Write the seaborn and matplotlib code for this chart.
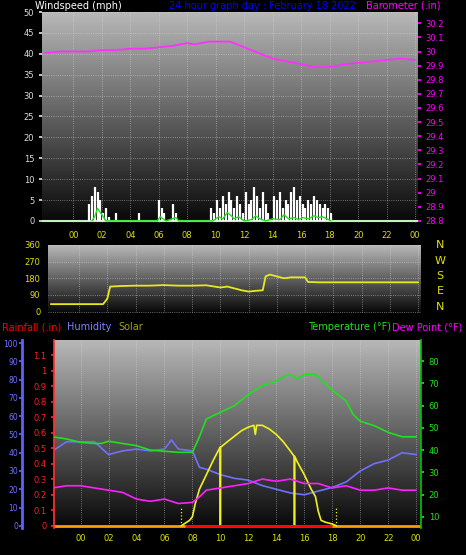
import numpy as np
import matplotlib
matplotlib.use("Agg")
import matplotlib.pyplot as plt
import seaborn as sns

sns.set_theme(style="dark")
plt.rcParams['font.family'] = ['DejaVu Sans']

# ---- data ----
gust_t = [0.9, 1.1, 1.3, 1.5, 1.7, 1.9, 2.1, 2.3, 2.5, 2.7, 3.0, 3.2, 4.6, 4.8, 6.0, 6.2, 6.4, 6.6, 7.0, 7.2, 7.4, 7.6,
          9.7, 9.9, 10.1, 10.3, 10.5, 10.7, 10.9, 11.1, 11.3, 11.5, 11.7, 11.9, 12.1, 12.3, 12.5, 12.7, 12.9, 13.1, 13.3,
          13.5, 13.7, 14.1, 14.3, 14.5, 14.7, 14.9, 15.1, 15.3, 15.5, 15.7, 15.9, 16.1, 16.3, 16.5, 16.7, 16.9, 17.1,
          17.3, 17.5, 17.7, 17.9, 18.1]
gust_v = [0, 4, 6, 8, 7, 5, 2, 3, 1, 0, 2, 0, 2, 0, 5, 3, 2, 0, 4, 2, 0, 0,
          3, 2, 5, 3, 6, 4, 7, 5, 3, 6, 4, 2, 7, 4, 5, 8, 6, 3, 7,
          4, 2, 6, 5, 7, 3, 5, 4, 7, 8, 5, 6, 4, 3, 5, 4, 6, 5,
          4, 3, 4, 3, 2]
avg_t = [1.3, 1.5, 1.7, 1.9, 2.1, 2.3, 5.9, 6.1, 6.3, 6.5, 7.2, 7.4, 9.8, 10.2, 10.5, 10.8, 11.0, 11.3, 11.6, 12.0,
         12.5, 12.8, 13.1, 13.5, 14.0, 14.5, 14.8, 15.1, 15.5, 15.8, 16.1, 16.5, 16.9, 17.2, 17.5, 17.8, 18.1]
avg_v = [0, 1, 3, 2, 1, 0, 0, 1, 0.5, 0, 0.8, 0, 0, 1, 0.5, 2, 1.5, 0.5, 1, 0,
         0.3, 1.2, 0.5, 0, 0.5, 0.3, 1.5, 0.5, 0.8, 0.3, 0.8, 0.5, 1.2, 0.8, 1.0, 0.5, 0]

baro_t = [-2, -1, 0, 1, 2, 3, 4, 5, 6, 7, 8, 8.5, 9, 9.5, 10, 11, 12, 13, 14, 15, 16, 17, 18, 19, 20, 21, 22, 23, 24]
baro_v = [29.99, 30.0, 30.0, 30.0, 30.01, 30.01, 30.02, 30.02, 30.03, 30.04, 30.06, 30.05, 30.06, 30.07, 30.07, 30.07,
          30.03, 29.99, 29.95, 29.93, 29.91, 29.89, 29.89, 29.91, 29.92, 29.93, 29.94, 29.95, 29.94]

dir_t = [-2, 0, 1, 1.7, 2.0, 2.2, 3, 4, 5, 6, 7, 8, 9, 10, 10.5, 11, 11.5, 12, 12.5, 13.0, 13.2, 13.5, 14, 14.5, 15, 16, 16.2, 17, 24]
dir_v = [40, 40, 40, 40, 70, 135, 138, 140, 140, 143, 140, 140, 142, 130, 135, 125, 115, 108, 112, 115, 190, 200, 190, 180, 185, 185, 160, 158, 158]

temp_t = [-2, -1, 0, 1, 1.5, 2, 3, 4, 5, 6, 7, 8, 8.5, 9, 10, 11, 12, 13, 14, 14.5, 15, 15.5, 16, 16.8, 17.5, 18, 19, 19.5, 20, 21, 22, 23, 24]
temp_v = [46, 45, 43.5, 43, 43, 44, 43, 42, 40, 39.5, 39, 39, 46, 54, 57, 60, 65, 69, 71, 73, 74, 72, 74, 74, 70, 67, 62, 56, 53, 51, 48, 46, 46]

hum_t = [-2, -1, 0, 1, 2, 3, 4, 5, 6, 6.5, 7, 8, 8.5, 9, 10, 11, 12, 13, 14, 15, 16, 17, 18, 19, 20, 21, 22, 23, 24]
hum_v = [41, 46, 46, 46, 39, 41, 42, 41, 42, 47, 42, 41, 32, 31, 28, 26, 25, 22, 20, 18, 17, 19, 21, 24, 30, 34, 36, 40, 39]

dew_t = [-2, -1, 0, 1, 2, 3, 4, 5, 6, 7, 8, 8.5, 9, 10, 11, 12, 13, 14, 15, 16, 17, 18, 19, 20, 21, 22, 23, 24]
dew_v = [23, 24, 24, 23, 22, 21, 18, 17, 18, 16, 16.5, 19, 22, 23, 24, 25, 27, 26, 27, 25, 25, 23, 24, 22, 22, 23, 22, 22]

solar_t = [7.2, 7.8, 8.0, 8.2, 8.5, 9.0, 9.5, 9.98, 10.0, 10.02, 10.5, 11, 11.5, 12, 12.4, 12.5, 12.6, 13, 13.5, 14, 14.5,
           15.0, 15.28, 15.3, 15.32, 15.5, 16, 16.5, 16.8, 17.0, 17.2, 17.5, 18.0, 18.3]
solar_v = [0, 3, 5, 12, 20, 28, 36, 43, 0, 43, 46, 49, 52, 54, 55, 50, 55, 55, 53, 50, 46,
           41, 38, 0, 38, 35, 28, 20, 16, 8, 3, 2, 1, 0]

hours = [0, 2, 4, 6, 8, 10, 12, 14, 16, 18, 20, 22, 24]
hour_labels = ["00", "02", "04", "06", "08", "10", "12", "14", "16", "18", "20", "22", "00"]

# ---- figure ----
W, H = 466, 555
fig = plt.figure(figsize=(W / 100, H / 100), dpi=100, facecolor="black")

def box(l, t, r, b):
    return [l / W, 1 - b / H, (r - l) / W, (b - t) / H]

grad = np.linspace(0.72, 0.03, 256).reshape(-1, 1)

def style(ax, xlim):
    ax.set_xlim(*xlim)
    ax.set_facecolor("black")
    yl = ax.get_ylim()
    ax.imshow(grad, cmap="gray", vmin=0, vmax=1, aspect="auto",
              extent=[xlim[0], xlim[1], yl[0], yl[1]], zorder=0)
    ax.set_ylim(*yl)
    ax.grid(True, color="#dddddd", linestyle=":", linewidth=0.6, alpha=0.6)
    for s in ax.spines.values():
        s.set_visible(False)
    ax.set_xticks(hours)
    ax.set_xticklabels(hour_labels, fontsize=6, color="#e0e000")
    ax.tick_params(axis="x", length=0, pad=4)
    ax.tick_params(axis="y", labelsize=6, length=2)

# top
xl1 = (-2.2, 24.2)
ax1 = fig.add_axes(box(42, 12, 418, 223))
ax1.set_ylim(-0.5, 50)
ax1.set_yticks(range(0, 51, 5))
ax1.tick_params(axis="y", colors="#dddddd")
style(ax1, xl1)
ax1.tick_params(axis="x", pad=6)
ax1.vlines(gust_t, 0, gust_v, color="white", linewidth=1.6, zorder=3)
ax1.plot(avg_t, avg_v, color="#20e020", linewidth=1.0, zorder=4)
ax1.axhline(0, color="#c0f0c0", linewidth=1.5, zorder=2)
ax1b = ax1.twinx()
ax1b.set_ylim(28.8 - 0.5 * 1.4 / 47.3, 28.8 + 50 * 1.4 / 47.3)
bt = np.round(np.arange(28.8, 30.21, 0.1), 1)
ax1b.set_yticks(bt)
ax1b.set_yticklabels([f"{v:g}" for v in bt])
ax1b.tick_params(axis="y", colors="#ff00ff", labelsize=6, length=2)
for s in ax1b.spines.values():
    s.set_visible(False)
ax1b.plot(baro_t, baro_v, color="#ff30ff", linewidth=1.3)

fig.text(35 / W, 1 - 6 / H, "Windspeed (mph)", color="white", fontsize=7, va="center")
fig.text(262 / W, 1 - 6 / H, "24 hour graph day : February 18 2022", color="#0000ff", fontsize=7, va="center", ha="center")
fig.text(440 / W, 1 - 6 / H, "Barometer (.in)", color="#ff00ff", fontsize=7, va="center", ha="right")

# middle
ax2 = fig.add_axes(box(48, 245, 421, 313))
ax2.set_ylim(-8, 360)
ax2.set_yticks([0, 90, 180, 270, 360])
ax2.tick_params(axis="y", colors="#e0e000")
style(ax2, xl1)
ax2.tick_params(axis="x", labelbottom=False)
ax2.plot(dir_t, dir_v, color="#e8e820", linewidth=1.3)
for i, c in enumerate("NWSEN"):
    fig.text(440 / W, 1 - (245 + i * 15.5) / H, c, color="#e0e000", fontsize=8, ha="center", va="center")

# bottom
xl3 = (-1.9, 24.35)
ax3 = fig.add_axes(box(54, 340, 421, 528))
ax3.set_ylim(-1.2, 101.7)
style(ax3, xl3)
ax3.set_yticks([])
ax3.plot(hum_t, hum_v, color="#7070ff", linewidth=1.2, zorder=3)
ax3.plot(solar_t, solar_v, color="#f0f020", linewidth=1.2, zorder=4)
ax3.vlines([7.2, 18.3], 0, 10, color="#f0f020", linestyle=":", linewidth=0.9, zorder=4)
ax3.axhline(0, color="#ff9900", linewidth=2, zorder=2)
ax3.hlines(0, 7.5, 18, color="#ff0000", linewidth=2, zorder=5)

axh = ax3.twinx()
axh.set_ylim(-1.2, 101.7)
axh.yaxis.tick_left()
axh.spines["left"].set_visible(True)
axh.spines["left"].set_position(("outward", 23))
axh.spines["left"].set_color("#6060ff")
axh.spines["left"].set_linewidth(2)
for s in ["right", "top", "bottom"]:
    axh.spines[s].set_visible(False)
axh.set_yticks(range(0, 101, 10))
axh.tick_params(axis="y", colors="#6060ff", labelsize=5.5, length=2, pad=1)
axh.tick_params(axis="y", labelcolor="#7070ff")

axr = ax3.twinx()
axr.set_ylim(-1.2 * 1.2 / 101.7, 1.2)
axr.yaxis.tick_left()
axr.spines["left"].set_visible(True)
axr.spines["left"].set_color("#ff3030")
axr.spines["left"].set_linestyle((0, (2, 1)))
for s in ["right", "top", "bottom"]:
    axr.spines[s].set_visible(False)
rt = np.round(np.arange(0, 1.11, 0.1), 1)
axr.set_yticks(rt)
axr.set_yticklabels([f"{v:g}" for v in rt])
axr.tick_params(axis="y", colors="#ff2020", labelsize=6, length=2)

axt = ax3.twinx()
axt.set_ylim(5, 89.5)
for s in axt.spines.values():
    s.set_visible(False)
axt.spines["right"].set_visible(True)
axt.spines["right"].set_color("#00c000")
axt.spines["right"].set_linestyle((0, (2, 1)))
axt.set_yticks(range(10, 81, 10))
axt.tick_params(axis="y", colors="#20e020", labelsize=6, length=2)
axt.plot(temp_t, temp_v, color="#20e020", linewidth=1.2, zorder=3)
axt.plot(dew_t, dew_v, color="#ff20ff", linewidth=1.2, zorder=3)

fy = 1 - 327 / H
fig.text(2 / W, fy, "Rainfall (.in)", color="#ff0000", fontsize=7, va="center")
fig.text(67 / W, fy, "Humidity", color="#8080ff", fontsize=7, va="center")
fig.text(118 / W, fy, "Solar", color="#a0a020", fontsize=7, va="center")
fig.text(391 / W, fy, "Temperature (°F)", color="#20e020", fontsize=7, va="center", ha="right")
fig.text(392 / W, fy, "Dew Point (°F)", color="#ff00ff", fontsize=7, va="center")

fig.savefig("out.png", dpi=100, facecolor="black")
